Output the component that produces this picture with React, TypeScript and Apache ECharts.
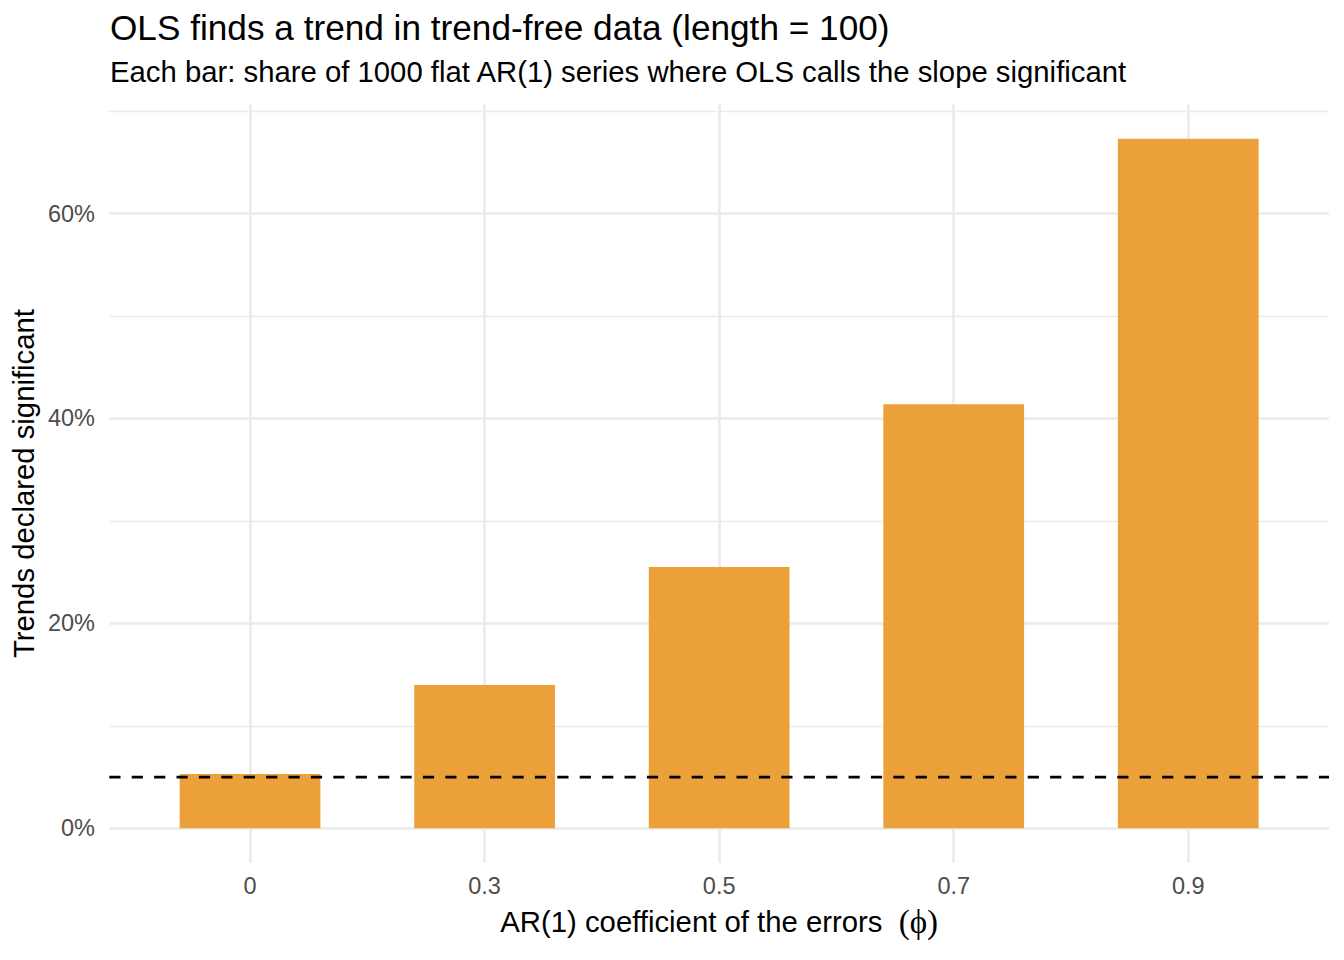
import React, { useEffect, useRef } from 'react';
import * as echarts from 'echarts';

// ---- data ----
const categories = ['0', '0.3', '0.5', '0.7', '0.9'];
const shares = [5.3, 14.0, 25.5, 41.4, 67.3];
const nominalLevel = [5, 5];
const yBreaks = [0, 20, 40, 60];
const yMinorStep = 10;

const titleText = 'OLS finds a trend in trend-free data (length = 100)';
const subtitleText = 'Each bar: share of 1000 flat AR(1) series where OLS calls the slope significant';
const xTitleMain = 'AR(1) coefficient of the errors  ';
const xTitleSymbol = '(\u03D5)';
const yTitleText = 'Trends declared significant';

// ---- layout / style ----
const W = 1344;
const H = 960;
const panel = { left: 109.3, right: 1329, top: 104.3, bottom: 862.8 };
const FONT = '"Liberation Sans", Arial, Helvetica, sans-serif';
const GRID = '#EBEBEB';
const BAR = '#ECA03A';
const TICK = '#4D4D4D';
const TITLE_SIZE = 35.2;
const SUB_SIZE = 29.3;
const AXIS_TITLE_SIZE = 29.3;
const TICK_SIZE = 23.5;
const CENTRAL = 0.3465;

export default function App() {
  const ref = useRef<HTMLDivElement>(null);

  useEffect(() => {
    const chart = echarts.init(ref.current!, null, { renderer: 'svg' });

    const dataMax = Math.max(...shares);
    const yMin = -0.05 * dataMax;
    const yMax = 1.05 * dataMax;
    const ppu = (panel.bottom - panel.top) / (yMax - yMin);
    const yPx = (v: number) => panel.bottom - (v - yMin) * ppu;
    const n = categories.length;
    const step = (panel.right - panel.left) / (n - 1 + 1.2);
    const cx0 = panel.left + 0.6 * step;
    const cxN = panel.left + (n - 1 + 0.6) * step;
    const majorMax = yBreaks[yBreaks.length - 1];
    const minorMax = Math.floor(yMax / yMinorStep) * yMinorStep;
    const zeroPx = yPx(0);

    const option: any = {
      animation: false,
      backgroundColor: '#ffffff',
      textStyle: { fontFamily: FONT },
      grid: [
        { left: panel.left, right: W - panel.right, top: yPx(majorMax), bottom: H - zeroPx, outerBoundsMode: 'none' },
        { left: panel.left, right: W - panel.right, top: yPx(minorMax), bottom: H - zeroPx, outerBoundsMode: 'none' },
        { left: cx0, right: W - cxN, top: panel.top, bottom: H - panel.bottom, outerBoundsMode: 'none' },
      ],
      xAxis: [
        { gridIndex: 0, type: 'value', min: 0, max: 1, show: false },
        { gridIndex: 1, type: 'value', min: 0, max: 1, show: false },
        {
          gridIndex: 2,
          type: 'value',
          min: 0,
          max: n - 1,
          interval: 1,
          axisLine: { show: false },
          axisTick: { show: false },
          splitLine: { show: true, lineStyle: { color: GRID, width: 2.67 } },
          axisLabel: {
            formatter: (v: number) => categories[Math.round(v)] ?? '',
            fontSize: TICK_SIZE,
            color: TICK,
            fontFamily: FONT,
            margin: 11.5,
          },
        },
      ],
      yAxis: [
        {
          gridIndex: 0,
          type: 'value',
          min: yBreaks[0],
          max: majorMax,
          interval: yBreaks[1] - yBreaks[0],
          axisLine: { show: false },
          axisTick: { show: false },
          splitLine: { show: true, lineStyle: { color: GRID, width: 2.67 } },
          axisLabel: { formatter: '{value}%', fontSize: TICK_SIZE, color: TICK, fontFamily: FONT, margin: 14.3 },
        },
        {
          gridIndex: 1,
          type: 'value',
          min: 0,
          max: minorMax,
          interval: yMinorStep,
          axisLine: { show: false },
          axisTick: { show: false },
          axisLabel: { show: false },
          splitLine: { show: true, lineStyle: { color: GRID, width: 1.33 } },
        },
        { gridIndex: 2, type: 'value', min: yMin, max: yMax, show: false },
      ],
      series: [
        {
          type: 'bar',
          xAxisIndex: 2,
          yAxisIndex: 2,
          data: shares.map((v, i) => [i, v]),
          barWidth: step * 0.6,
          clip: false,
          itemStyle: { color: BAR },
          z: 2,
          silent: true,
        },
        {
          type: 'line',
          xAxisIndex: 0,
          yAxisIndex: 0,
          data: nominalLevel.map((v, i) => [i, v]),
          showSymbol: false,
          symbol: 'none',
          lineStyle: { color: '#000000', width: 2.8, type: [11.2, 11.2] },
          z: 5,
          silent: true,
        },
      ],
      graphic: [
        {
          type: 'text',
          x: 110,
          y: 39.5 - CENTRAL * TITLE_SIZE,
          style: {
            text: titleText,
            fontSize: TITLE_SIZE,
            fontFamily: FONT,
            fill: '#000000',
            align: 'left',
            verticalAlign: 'middle',
            textAlign: 'left',
            textVerticalAlign: 'middle',
          },
        },
        {
          type: 'text',
          x: 110,
          y: 81.7 - CENTRAL * SUB_SIZE,
          style: {
            text: subtitleText,
            fontSize: SUB_SIZE,
            fontFamily: FONT,
            fill: '#000000',
            align: 'left',
            verticalAlign: 'middle',
            textAlign: 'left',
            textVerticalAlign: 'middle',
          },
        },
        {
          type: 'text',
          x: (panel.left + panel.right) / 2,
          y: 932 - CENTRAL * AXIS_TITLE_SIZE,
          style: {
            text: '{a|' + xTitleMain + '}{b|' + xTitleSymbol + '}',
            align: 'center',
            verticalAlign: 'middle',
            textAlign: 'center',
            textVerticalAlign: 'middle',
            fill: '#000000',
            rich: {
              a: { fontSize: AXIS_TITLE_SIZE, fontFamily: FONT, fill: '#000000' },
              b: { fontSize: 33, fontFamily: '"Liberation Serif", "DejaVu Serif", serif', fill: '#000000' },
            },
          },
        },
        {
          type: 'text',
          x: 34 - CENTRAL * AXIS_TITLE_SIZE,
          y: (panel.top + panel.bottom) / 2,
          rotation: Math.PI / 2,
          style: {
            text: yTitleText,
            fontSize: AXIS_TITLE_SIZE,
            fontFamily: FONT,
            fill: '#000000',
            align: 'center',
            verticalAlign: 'middle',
            textAlign: 'center',
            textVerticalAlign: 'middle',
          },
        },
      ],
    };

    chart.setOption(option);
    return () => chart.dispose();
  }, []);

  return (
    <div
      ref={ref}
      style={{ position: 'fixed', left: 0, top: 0, width: W, height: H, background: '#ffffff' }}
    />
  );
}
